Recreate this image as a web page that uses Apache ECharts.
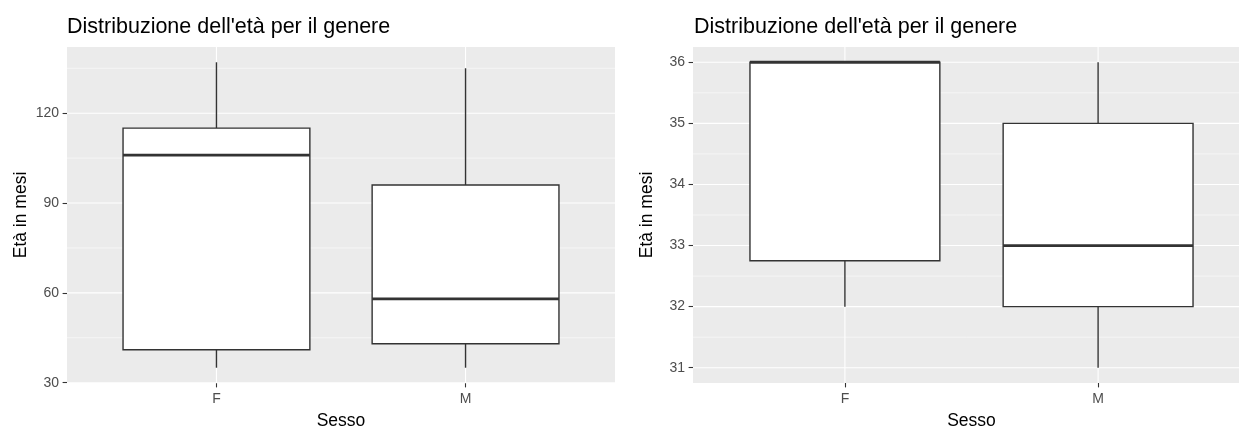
<!DOCTYPE html>
<html>
<head>
<meta charset="utf-8">
<script src="https://cdn.jsdelivr.net/npm/echarts@6/dist/echarts.min.js"></script>
<style>
  html, body { margin: 0; padding: 0; background: #ffffff; }
  #chart { width: 1239px; height: 427px; }
</style>
</head>
<body>
<div id="chart"></div>
<script>
// Age (months) by sex: five-number summaries [lower whisker, Q1, median, Q3, upper whisker]
const categories = ['F', 'M'];

const allF = [35, 41, 106, 115, 137];
const allM = [35, 43, 58, 96, 135];

const youngF = [32, 32.75, 36, 36, 36];
const youngM = [31, 32, 33, 35, 36];

// axis breaks
const leftTicks = [30, 60, 90, 120];
const leftMinor = [45, 75, 105, 135];
const rightTicks = [31, 32, 33, 34, 35, 36];
const rightMinor = [31.5, 32.5, 33.5, 34.5, 35.5];

const titleText = "Distribuzione dell'età per il genere";
const xTitle = 'Sesso';
const yTitle = 'Età in mesi';

const FONT = "'Liberation Sans', Arial, sans-serif";
const BOX_WIDTH = 0.75;
const OUTLINE = '#333333';

// continuous scale range with 5% padding on each side
function padded(groups) {
  const vals = groups.flat();
  const lo = Math.min(...vals), hi = Math.max(...vals);
  const pad = 0.05 * (hi - lo);
  return [lo - pad, hi + pad];
}
const leftRange = padded([allF, allM]);
const rightRange = padded([youngF, youngM]);

function hLine(width) {
  return function (params, api) {
    const cs = params.coordSys;
    const y = api.coord([1, api.value(1)])[1];
    return {
      type: 'line', silent: true,
      shape: { x1: cs.x, y1: y, x2: cs.x + cs.width, y2: y },
      style: { stroke: '#ffffff', lineWidth: width }
    };
  };
}
function vLine(width) {
  return function (params, api) {
    const cs = params.coordSys;
    const x = api.coord([api.value(0), api.value(1)])[0];
    return {
      type: 'line', silent: true,
      shape: { x1: x, y1: cs.y, x2: x, y2: cs.y + cs.height },
      style: { stroke: '#ffffff', lineWidth: width }
    };
  };
}

function renderBox(params, api) {
  const x = api.value(0);
  const lo = api.coord([x, api.value(1)]);
  const q1 = api.coord([x, api.value(2)]);
  const med = api.coord([x, api.value(3)]);
  const q3 = api.coord([x, api.value(4)]);
  const hi = api.coord([x, api.value(5)]);
  const half = api.size([BOX_WIDTH, 0])[0] / 2;
  const lineStyle = { stroke: OUTLINE, lineWidth: 1.4 };
  return {
    type: 'group',
    children: [
      { type: 'line', shape: { x1: lo[0], y1: lo[1], x2: q1[0], y2: q1[1] }, style: lineStyle },
      { type: 'line', shape: { x1: q3[0], y1: q3[1], x2: hi[0], y2: hi[1] }, style: lineStyle },
      { type: 'rect', shape: { x: q1[0] - half, y: q3[1], width: 2 * half, height: q1[1] - q3[1] },
        style: { fill: '#ffffff', stroke: OUTLINE, lineWidth: 1.4 } },
      { type: 'line', shape: { x1: med[0] - half, y1: med[1], x2: med[0] + half, y2: med[1] },
        style: { stroke: OUTLINE, lineWidth: 2.8 } }
    ]
  };
}

function panelSeries(idx, range, major, minor, groups) {
  const catPos = categories.map((c, i) => i + 1);
  return [
    { type: 'custom', xAxisIndex: idx, yAxisIndex: idx, z: 1, silent: true,
      renderItem: hLine(0.55), data: minor.map(v => [1, v]) },
    { type: 'custom', xAxisIndex: idx, yAxisIndex: idx, z: 1, silent: true,
      renderItem: hLine(1.1), data: major.map(v => [1, v]) },
    { type: 'custom', xAxisIndex: idx, yAxisIndex: idx, z: 1, silent: true,
      renderItem: vLine(1.1), data: catPos.map(p => [p, range[0]]) },
    { type: 'custom', xAxisIndex: idx, yAxisIndex: idx, z: 3,
      renderItem: renderBox,
      encode: { x: 0, y: [1, 2, 3, 4, 5] },
      data: groups.map((g, i) => [catPos[i]].concat(g)) }
  ];
}

function xAxisFor(idx) {
  return {
    type: 'value', gridIndex: idx, min: 0.4, max: 2.6,
    axisLine: { show: false },
    axisTick: { show: true, length: 4.4, customValues: [1, 2],
      lineStyle: { color: '#333333', width: 1.1 } },
    axisLabel: { customValues: [1, 2], margin: 9, color: '#4D4D4D', fontSize: 14, fontFamily: FONT,
      formatter: v => categories[Math.round(v) - 1] },
    splitLine: { show: false },
    name: xTitle, nameLocation: 'middle', nameGap: 29,
    nameTextStyle: { color: '#000000', fontSize: 17.5, fontFamily: FONT }
  };
}
function yAxisFor(idx, range, ticks) {
  return {
    type: 'value', gridIndex: idx, min: range[0], max: range[1],
    axisLine: { show: false },
    axisTick: { show: true, length: 4.4, customValues: ticks,
      lineStyle: { color: '#333333', width: 1.1 } },
    axisLabel: { customValues: ticks, margin: 8, color: '#4D4D4D', fontSize: 14, fontFamily: FONT },
    splitLine: { show: false },
    name: yTitle, nameLocation: 'middle', nameGap: 37,
    nameTextStyle: { color: '#000000', fontSize: 17.5, fontFamily: FONT }
  };
}

const titleStyle = { fontSize: 21.5, fontWeight: 'normal', color: '#000000', fontFamily: FONT };

const chart = echarts.init(document.getElementById('chart'), null, { renderer: 'canvas' });
chart.setOption({
  animation: false,
  backgroundColor: '#ffffff',
  textStyle: { fontFamily: FONT },
  title: [
    { text: titleText, left: 67, top: 16, padding: 0, textStyle: titleStyle },
    { text: titleText, left: 694, top: 16, padding: 0, textStyle: titleStyle }
  ],
  grid: [
    { left: 67, top: 47, width: 548, height: 336, show: true, backgroundColor: '#EBEBEB',
      borderWidth: 0, outerBoundsMode: 'none' },
    // the right panel runs past the canvas edge
    { left: 693, top: 47, width: 557, height: 336, show: true, backgroundColor: '#EBEBEB',
      borderWidth: 0, outerBoundsMode: 'none' }
  ],
  xAxis: [xAxisFor(0), xAxisFor(1)],
  yAxis: [yAxisFor(0, leftRange, leftTicks), yAxisFor(1, rightRange, rightTicks)],
  series: [].concat(
    panelSeries(0, leftRange, leftTicks, leftMinor, [allF, allM]),
    panelSeries(1, rightRange, rightTicks, rightMinor, [youngF, youngM])
  )
});
</script>
</body>
</html>
